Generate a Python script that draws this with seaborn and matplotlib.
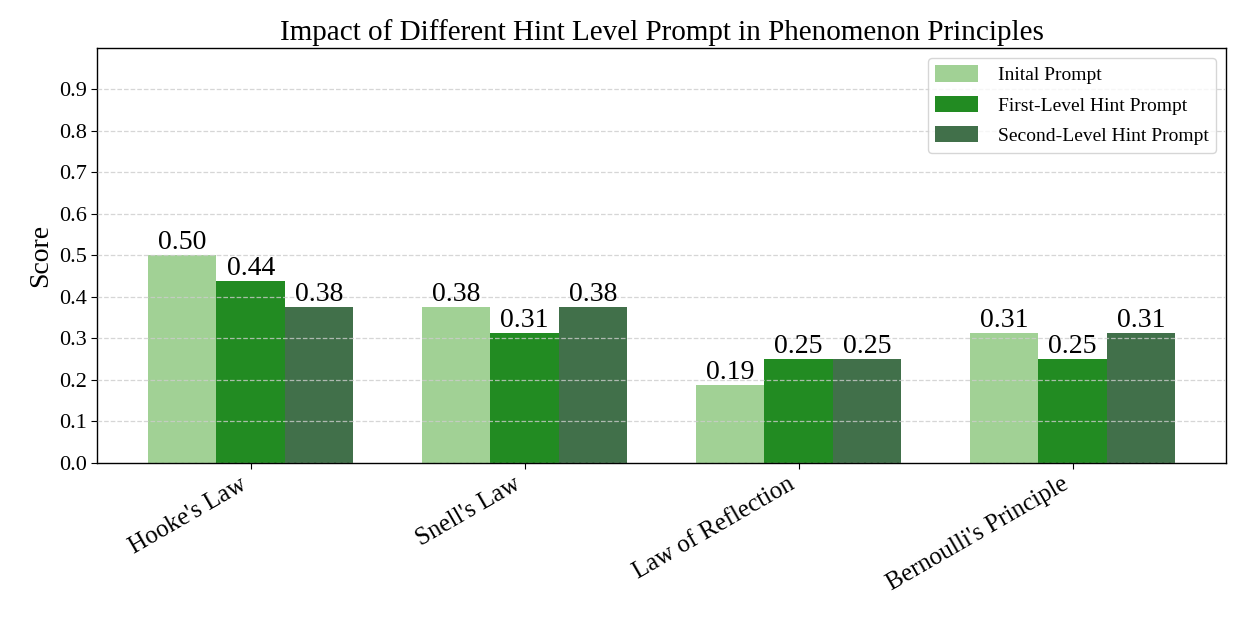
import matplotlib
matplotlib.use("Agg")
import matplotlib.pyplot as plt
import seaborn as sns
import numpy as np
import pandas as pd

# data
principles = ["Hooke's Law", "Snell's Law", "Law of Reflection", "Bernoulli's Principle"]
prompts = ["Inital Prompt", "First-Level Hint Prompt", "Second-Level Hint Prompt"]
initial = [0.5, 0.375, 0.1875, 0.3125]
first_hint = [0.4375, 0.3125, 0.25, 0.25]
second_hint = [0.375, 0.375, 0.25, 0.3125]
colors = ["#a1d195", "#228b22", "#41704a"]

df = pd.DataFrame({
    "Principle": principles * 3,
    "Prompt": [p for p in prompts for _ in principles],
    "Score": initial + first_hint + second_hint,
})

sns.set_style("white")
plt.rcParams["font.family"] = ["Liberation Serif", "DejaVu Serif"]
plt.rcParams["text.color"] = "black"
plt.rcParams["axes.labelcolor"] = "black"
plt.rcParams["xtick.color"] = "black"
plt.rcParams["ytick.color"] = "black"

fig, ax = plt.subplots(figsize=(12.46, 6.23), dpi=100)
sns.barplot(data=df, x="Principle", y="Score", hue="Prompt", palette=colors,
            width=0.75, gap=0, saturation=1, edgecolor="none", linewidth=0, ax=ax)

for container in ax.containers:
    ax.bar_label(container, fmt="%.2f", fontsize=20, padding=0, color="black")

ax.set_ylim(0, 1.0)
ax.set_xlim(-0.56, 3.56)
ax.set_yticks(np.arange(0, 1.0, 0.1))
ax.set_yticklabels([f"{v:.1f}" for v in np.arange(0, 1.0, 0.1)], fontsize=16)
ax.yaxis.grid(True, linestyle="--", color="#cccccc", linewidth=0.9, alpha=0.8)
ax.set_axisbelow(False)
ax.tick_params(axis="both", which="both", length=4, left=True, bottom=True)
plt.setp(ax.get_xticklabels(), rotation=30, ha="right", fontsize=18)
for s in ax.spines.values():
    s.set_color("black")
    s.set_linewidth(1.0)

ax.set_xlabel("")
ax.set_ylabel("Score", fontsize=20)
ax.set_title("Impact of Different Hint Level Prompt in Phenomenon Principles", fontsize=21)
leg = ax.legend(loc="upper right", fontsize=14, title=None, frameon=True,
                handlelength=2.2, handleheight=0.9, handletextpad=1.0,
                labelspacing=0.6)
leg.get_frame().set_edgecolor("#cccccc")

fig.subplots_adjust(left=0.078, right=0.984, top=0.923, bottom=0.257)
fig.savefig("out.png", dpi=100)
